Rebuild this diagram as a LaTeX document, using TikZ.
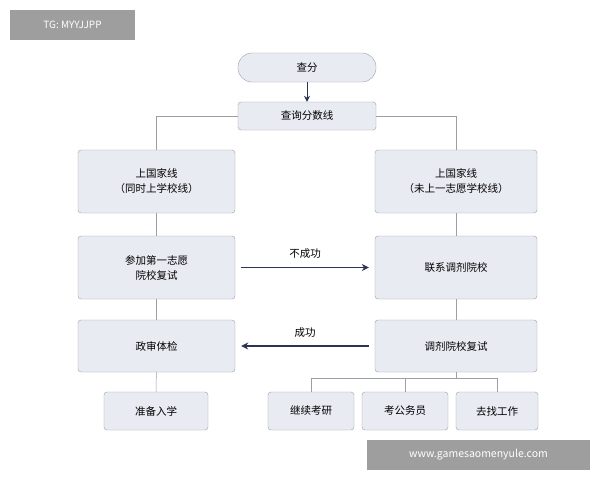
\documentclass[tikz,border=0pt]{standalone}
\usepackage{fontspec}
\setmainfont{Noto Sans CJK SC}
\usetikzlibrary{arrows.meta, positioning}
\definecolor{boxfill}{HTML}{E9EBF2}
\definecolor{boxline}{HTML}{9A9FAA}
\definecolor{arrowblue}{HTML}{2B3358}
\definecolor{markgray}{HTML}{9E9E9E}
\tikzset{
    block/.style={rectangle, draw=boxline, fill=boxfill, rounded corners=3pt, align=center, font=\fontsize{10.5}{15}\selectfont, inner sep=0pt},
    pill/.style={block, rounded corners=14pt},
    link/.style={draw=boxline, line width=0.5pt},
    arrow/.style={draw=arrowblue, line width=1.4pt, -{Stealth[length=7pt,width=7pt]}},
    watermark/.style={fill=markgray, text=white, inner sep=0pt, font=\fontsize{10}{12}\selectfont}
}
\begin{document}
\begin{tikzpicture}[x=1pt, y=-1pt]
    \useasboundingbox (0,0) rectangle (600,480);
    \fill[white] (0,0) rectangle (600,480);

    % watermarks
    \node (Mark_top) [watermark, minimum width=125, minimum height=30] at (72.5,25) {TG: MYYJJPP};
    \node (Mark_bottom) [watermark, minimum width=223, minimum height=30, font=\fontsize{10.5}{12}\selectfont] at (478.5,455) {www.gamesaomenyule.com};

    % top
    \node (Check) [pill, minimum width=138, minimum height=29] at (307,67.5) {查分};
    \node (Line) [block, minimum width=138, minimum height=28] at (307,116) {查询分数线};

    % left column
    \node (L1) [block, minimum width=157, minimum height=63] at (156.5,181.5) {上国家线\\（同时上学校线）};
    \node (L2) [block, minimum width=157, minimum height=63] at (156.5,267.5) {参加第一志愿\\院校复试};
    \node (L3) [block, minimum width=157, minimum height=52] at (156.5,346) {政审体检};
    \node (L4) [block, minimum width=104, minimum height=38] at (156,411) {准备入学};

    % right column
    \node (R1) [block, minimum width=162, minimum height=63] at (456,181.5) {上国家线\\（未上一志愿学校线）};
    \node (R2) [block, minimum width=162, minimum height=63] at (456,267.5) {联系调剂院校};
    \node (R3) [block, minimum width=162, minimum height=52] at (456,346) {调剂院校复试};
    \node (R4a) [block, minimum width=86, minimum height=38] at (311,411) {继续考研};
    \node (R4b) [block, minimum width=86, minimum height=38] at (405,411) {考公务员};
    \node (R4c) [block, minimum width=82, minimum height=38] at (497,411) {去找工作};
    \coordinate (Split) at (456,378);

    % connections
    \draw[arrow, line width=1pt, -{Stealth[length=6pt,width=6pt]}] (Check) -- (Line);
    \draw[link] (Line.west) -| (L1.north);
    \draw[link] (Line.east) -| (R1.north);
    \draw[link] (L1) -- (L2);
    \draw[link] (L2) -- (L3);
    \draw[link] (L3) -- (L4);
    \draw[link] (R1) -- (R2);
    \draw[link] (R2) -- (R3);
    \draw[link] (R3) -- (Split);
    \draw[link] (Split) -| (R4a.north);
    \draw[link] (Split) -| (R4c.north);
    \draw[link] (Split -| R4b.north) -- (R4b.north);

    % flow
    \draw[arrow] ([xshift=6pt]L2.east) -- node[above=5pt, text=black, font=\fontsize{10.5}{12}\selectfont] {不成功} ([xshift=-6pt]R2.west);
    \draw[arrow] ([xshift=-6pt]R3.west) -- node[above=5pt, text=black, font=\fontsize{10.5}{12}\selectfont] {成功} ([xshift=6pt]L3.east);
\end{tikzpicture}
\end{document}
